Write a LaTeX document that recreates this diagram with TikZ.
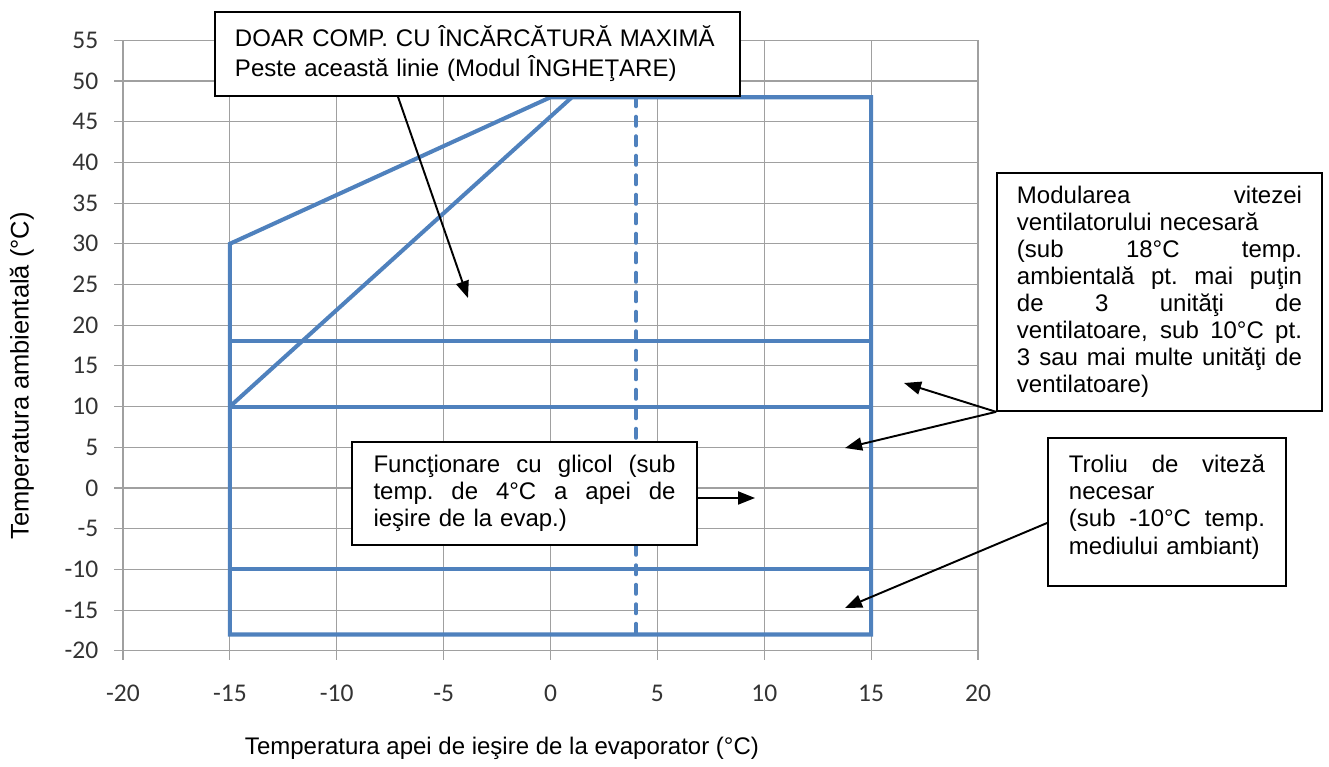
\documentclass[tikz,border=0pt]{standalone}
\usepackage{fontspec}
\setmainfont{Liberation Sans}
\newfontfamily\calibrifont{Carlito}
\usetikzlibrary{calc, arrows.meta}
\definecolor{chartblue}{HTML}{4F81BD}
\definecolor{gridgray}{HTML}{A0A0A0}
\setlength{\parindent}{0pt}
\newcommand{\spreadline}[1]{\makebox[\hsize][s]{\spaceskip=0.278em plus 1fil\xspaceskip=0.278em plus 1fil\relax #1}}

\begin{document}
\begin{tikzpicture}[x=0.4275cm, y=0.1628cm,
  envelope/.style={chartblue, line width=2.3pt},
  gridline/.style={gridgray, line width=0.6pt},
  note/.style={draw, line width=1pt, fill=white, align=left,
    font=\fontsize{13.66}{15.4}\selectfont},
  pointer/.style={-{Triangle[length=0.34cm, width=0.26cm]}, line width=1.1pt},
  ticklabel/.style={font=\calibrifont\fontsize{14.5}{16}\selectfont, text=black!80, inner xsep=0pt},
  axistitle/.style={font=\fontsize{13.66}{16}\selectfont}]

  % Page with its margins
  \useasboundingbox (-25.754,-34.275) rectangle (36.421,59.951);

  % Grid lines with their ticks
  \foreach \x in {-20,-15,...,20}
    \draw[gridline] (\x,-21.1) -- (\x,55);
  \foreach \y in {-20,-15,...,55}
    \draw[gridline] (-20.42,\y) -- (20,\y);

  % Tick labels
  \foreach \x [count=\i] in {-20,-15,...,20}
    \node[ticklabel] (xl\i) at (\x,-25.2) {\x};
  \foreach \y [count=\i] in {-20,-15,...,55}
    \node[ticklabel, anchor=east] (yl\i) at (-21.14,\y) {\y};

  % Axis titles
  \node[axistitle, rotate=90, font=\fontsize{14.5}{16}\selectfont] (ytitle) at (-24.73,13.76) {Temperatura ambientală (°C)};
  \node[axistitle] (xtitle) at (-2.27,-31.94) {Temperatura apei de ieşire de la evaporator (°C)};

  % Operating envelope
  \draw[envelope] (-15,-18) -- (-15,30) -- (0,48) -- (15,48) -- (15,-18) -- cycle;
  \draw[envelope] (-15,10) -- (1,48);
  \foreach \y in {18,10,-10}
    \draw[envelope] (-15,\y) -- (15,\y);
  \draw[envelope, dash pattern=on 0.18cm off 0.21cm, line cap=round] (4,48) -- (4,-18);

  % Arrow ends
  \coordinate (T1) at (-3.86,23.34);
  \coordinate (T2) at (16.54,12.90);
  \coordinate (T3) at (13.78,4.91);
  \coordinate (T4) at (9.57,-1.23);
  \coordinate (T5) at (13.78,-14.74);

  % Notes
  \node[note, text width=9.7cm, inner xsep=0.4cm, minimum height=1.68cm,
    font=\fontsize{13.66}{17}\selectfont] (maxload) at (-3.415,53.32)
    {DOAR COMP. CU ÎNCĂRCĂTURĂ MAXIMĂ\\Peste această linie (Modul ÎNGHEŢARE)};
  \node[note, text width=5.7cm, inner xsep=0.4cm, minimum height=4.76cm] (fanspeed) at (28.49,24.08)
    {\spreadline{Modularea vitezei}\\
     ventilatorului necesară\\
     \spreadline{(sub 18°C temp.}\\
     \spreadline{ambientală pt. mai puţin}\\
     \spreadline{de 3 unităţi de}\\
     \spreadline{ventilatoare, sub 10°C pt.}\\
     \spreadline{3 sau mai multe unităţi de}\\
     ventilatoare)};
  \node[note, text width=6.04cm, inner xsep=0.43cm, minimum height=2.06cm] (glycol) at (-1.216,-0.676)
    {\spreadline{Funcţionare cu glicol (sub}\\
     \spreadline{temp. de 4°C a apei de}\\
     ieşire de la evap.)};
  \node[note, text width=3.92cm, inner xsep=0.42cm, minimum height=2.96cm, text depth=1.92cm] (winch) at (28.84,-2.95)
    {\spreadline{Troliu de viteză}\\
     necesar\\
     \spreadline{(sub -10°C temp.}\\
     mediului ambiant)};

  % Pointers
  \draw[pointer] ([xshift=-1.59cm]maxload.south) -- (T1);
  \draw[pointer] (fanspeed.south west) -- (T2);
  \draw[pointer] (fanspeed.south west) -- (T3);
  \draw[pointer] (glycol.east |- T4) -- (T4);
  \draw[pointer] ([yshift=-0.22cm]winch.west) -- (T5);

\end{tikzpicture}
\end{document}
